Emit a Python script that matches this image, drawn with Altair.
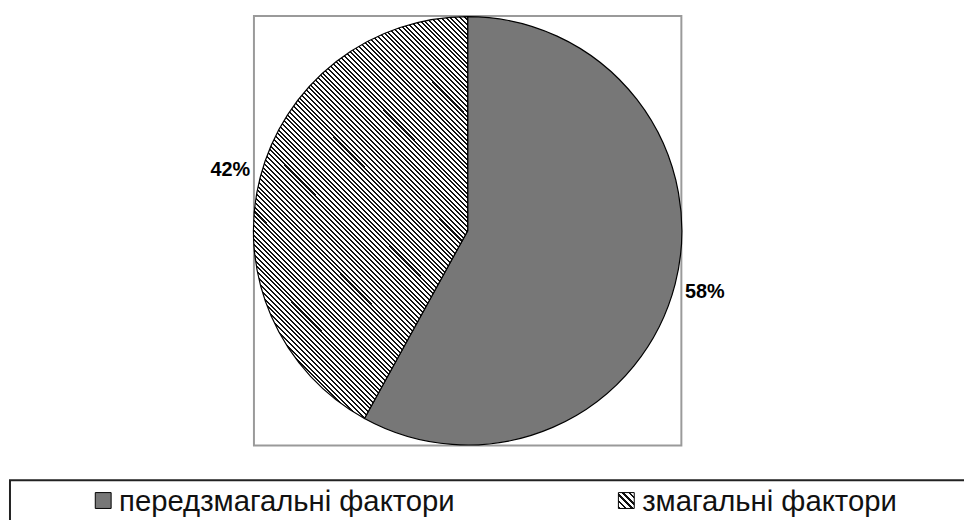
import altair as alt
import pandas as pd

# ---- data ----
categories = ["передзмагальні фактори", "змагальні фактори"]
values = [58, 42]
labels = ["58%", "42%"]
order = [0, 1]

df = pd.DataFrame({"cat": categories, "value": values, "label": labels, "idx": order})

W, H = 964, 512
CX, CY, R = 463.5, 222.5, 216
FONT = "Liberation Sans"


def stripes(x1, y1, x2, y2, n, frac=0.42, dark="#111111", light="#ffffff"):
    stops = []
    for k in range(n):
        o0 = k / n
        o1 = (k + frac) / n
        o2 = (k + 1) / n
        stops += [
            {"offset": o0, "color": dark},
            {"offset": o1, "color": dark},
            {"offset": o1, "color": light},
            {"offset": o2, "color": light},
        ]
    return {"gradient": "linear", "x1": x1, "y1": y1, "x2": x2, "y2": y2, "stops": stops}


# hatched slice: bbox approx 216 x 405 -> make stripes run at 45 deg in screen space
bw, bh = 216.0, 405.0
a = bw / bh
vx, vy = a, -1.0
k = (a + 1.0) / (a * a + 1.0)
hatch_slice = stripes(0, 1, vx * k, 1 + vy * k, 128)
hatch_legend = stripes(0, 1, 1, 0, 5)

checker = "#777777"

base = alt.Chart(df)

arc = base.mark_arc(radius=R, stroke="black", strokeWidth=1.2).encode(
    theta=alt.Theta("value:Q", stack=True),
    order=alt.Order("idx:Q"),
    detail="cat:N",
    fill=alt.condition(alt.datum.idx == 0, alt.value(checker), alt.value(hatch_slice)),
    x=alt.value(CX),
    y=alt.value(CY),
)

pct = base.mark_text(radius=247, fontSize=20, fontWeight="bold", font=FONT, color="black").encode(
    theta=alt.Theta("value:Q", stack=True),
    order=alt.Order("idx:Q"),
    detail="cat:N",
    text="label:N",
    x=alt.value(CX),
    y=alt.value(CY),
)

one = alt.Chart(pd.DataFrame({"a": [0]}))

frame = one.mark_rect(fill=None, stroke="#9a9a9a", strokeWidth=2).encode(
    x=alt.value(248), x2=alt.value(679), y=alt.value(6), y2=alt.value(439)
)

legend_box = one.mark_rect(fill=None, stroke="#222222", strokeWidth=2).encode(
    x=alt.value(2), x2=alt.value(1000), y=alt.value(474), y2=alt.value(600)
)

lx = alt.X("idx:Q", scale=alt.Scale(domain=[0, 1], range=[96, 623.5]), axis=None)

leg_sym = base.mark_square(size=256, stroke="black", strokeWidth=1, opacity=1, filled=True).encode(
    x=lx,
    y=alt.value(494.5),
    fill=alt.condition(alt.datum.idx == 0, alt.value(checker), alt.value(hatch_legend)),
)

leg_txt = base.mark_text(align="left", baseline="alphabetic", dx=16, fontSize=29.5, font=FONT, color="#111111").encode(
    x=lx,
    y=alt.value(505),
    text="cat:N",
)

chart = (
    alt.layer(frame, arc, pct, legend_box, leg_sym, leg_txt)
    .properties(width=W, height=H, padding=0, autosize=alt.AutoSizeParams(type="none"))
    .configure_view(stroke=None)
)

chart.save("out.html", embed_options={"renderer": "svg", "actions": False})
